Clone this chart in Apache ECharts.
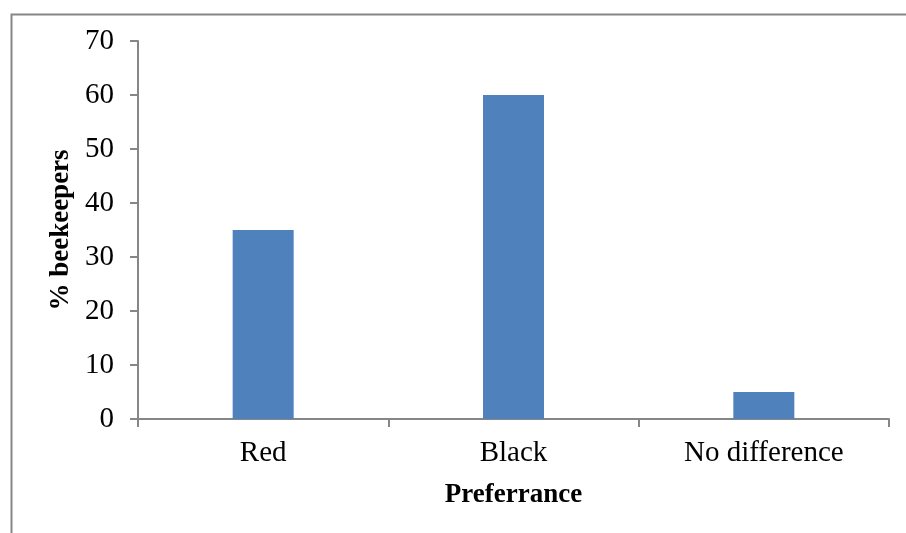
<!DOCTYPE html>
<html>
<head>
<meta charset="utf-8">
<script src="https://cdn.jsdelivr.net/npm/echarts@6/dist/echarts.min.js"></script>
<style>
  html, body { margin: 0; padding: 0; background: #fff; }
  #chart { width: 906px; height: 533px; }
</style>
</head>
<body>
<div id="chart"></div>
<script>
// Beekeepers' colour preference
const categories = ['Red', 'Black', 'No difference'];
const beekeeperShare = [35, 60, 5];
const yTicks = { min: 0, max: 70, interval: 10 };

const axisGray = '#868686';
const serif = '"Liberation Serif", "Times New Roman", serif';

const chart = echarts.init(document.getElementById('chart'), null, { renderer: 'canvas' });
chart.setOption({
  animation: false,
  backgroundColor: '#ffffff',
  graphic: [{
    type: 'rect',
    left: 9, top: 12,
    shape: { width: 1000, height: 1000 },
    style: { fill: 'none', stroke: axisGray, lineWidth: 2 },
    silent: true
  }],
  grid: { left: 138, right: 17, top: 41, bottom: 114 },
  xAxis: {
    type: 'category',
    data: categories,
    name: 'Preferrance',
    nameLocation: 'middle',
    nameGap: 63,
    nameTextStyle: { fontFamily: serif, fontSize: 27, fontWeight: 'bold', color: '#000' },
    axisLine: { lineStyle: { color: axisGray, width: 2 } },
    axisTick: { show: true, length: 8, alignWithLabel: false, lineStyle: { color: axisGray, width: 2 } },
    axisLabel: { fontFamily: serif, fontSize: 29, color: '#000', margin: 20 }
  },
  yAxis: {
    type: 'value',
    min: yTicks.min, max: yTicks.max, interval: yTicks.interval,
    name: '% beekeepers',
    nameLocation: 'middle',
    nameGap: 63,
    nameRotate: 90,
    nameTextStyle: { fontFamily: serif, fontSize: 27, fontWeight: 'bold', color: '#000' },
    splitLine: { show: false },
    axisLine: { show: true, lineStyle: { color: axisGray, width: 2 } },
    axisTick: { show: true, length: 8, lineStyle: { color: axisGray, width: 2 } },
    axisLabel: { fontFamily: serif, fontSize: 29, color: '#000', margin: 24 }
  },
  series: [{
    type: 'bar',
    data: beekeeperShare,
    barWidth: 61,
    itemStyle: { color: '#4F81BD' }
  }]
});
</script>
</body>
</html>
